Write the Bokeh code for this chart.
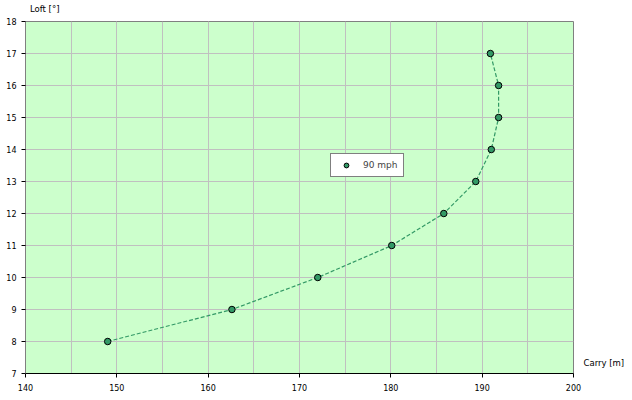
from bokeh.plotting import figure
from bokeh.models import (Range1d, SingleIntervalTicker, FixedTicker, Legend, LegendItem,
                          ColumnDataSource, LinearAxis)
from bokeh.embed import file_html
from bokeh.resources import INLINE

carry = [149.0, 162.6, 172.0, 180.1, 185.8, 189.3, 191.0, 191.8, 191.8, 190.9]
loft = [8, 9, 10, 11, 12, 13, 14, 15, 16, 17]
series_name = "90 mph"
x_title = "Carry [m]"
y_title = "Loft [°]"

FONT = "DejaVu Sans"
GREEN = "#339966"

p = figure(width=632, height=400, output_backend="svg", toolbar_location=None,
           x_range=Range1d(140, 200), y_range=Range1d(7, 18),
           min_border_left=25, min_border_right=59, min_border_top=21, min_border_bottom=27)
p.background_fill_color = "#CCFFCC"
p.border_fill_color = "white"
p.outline_line_color = "#808080"

p.xaxis.ticker = SingleIntervalTicker(interval=10, num_minor_ticks=2)
p.yaxis.ticker = SingleIntervalTicker(interval=1, num_minor_ticks=0)
for ax in (p.xaxis[0], p.yaxis[0]):
    ax.major_label_text_font = FONT
    ax.major_label_text_font_size = "8px"
    ax.major_label_text_color = "black"
    ax.minor_tick_line_color = None
    ax.major_tick_in = 0
    ax.major_tick_out = 4
    ax.major_tick_line_color = "black"
p.xaxis.axis_line_color = "black"
p.yaxis.axis_line_color = "#808080"
p.xaxis.major_label_standoff = 6
p.yaxis.major_label_standoff = 5

p.xgrid.grid_line_color = "#C0C0C0"
p.xgrid.minor_grid_line_color = "#C0C0C0"
p.ygrid.grid_line_color = "#C0C0C0"

src = ColumnDataSource(dict(x=carry, y=loft))
ln = p.line("x", "y", source=src, line_color=GREEN, line_width=1.2, line_dash="4 2")
sc = p.scatter("x", "y", source=src, size=6.5, fill_color=GREEN, line_color="black", line_width=1)

# axis titles placed as single tick labels of extra, otherwise empty axes
YT_POS = 142.1   # x position (data) of the y-axis title above the frame
XT_POS = 7.34    # y position (data) of the x-axis title right of the frame
tax = LinearAxis(ticker=FixedTicker(ticks=[YT_POS]), major_label_overrides={YT_POS: y_title},
                 axis_line_color=None, major_tick_line_color=None, minor_tick_line_color=None,
                 major_tick_out=0, major_tick_in=0, major_label_standoff=8,
                 major_label_text_font=FONT, major_label_text_font_size="8.5px",
                 major_label_text_color="black")
p.add_layout(tax, "above")
rax = LinearAxis(ticker=FixedTicker(ticks=[XT_POS]), major_label_overrides={XT_POS: x_title},
                 axis_line_color=None, major_tick_line_color=None, minor_tick_line_color=None,
                 major_tick_out=0, major_tick_in=0, major_label_standoff=10,
                 major_label_text_font=FONT, major_label_text_font_size="8.5px",
                 major_label_text_color="black")
p.add_layout(rax, "right")

legend = Legend(items=[LegendItem(label=series_name, renderers=[sc])],
                location=(305, 196), orientation="vertical",
                label_text_font=FONT, label_text_font_size="9px",
                glyph_width=20, glyph_height=12, padding=5, margin=0, spacing=0,
                label_standoff=7, border_line_color="black", border_line_width=1,
                background_fill_color="white", background_fill_alpha=1.0)
p.add_layout(legend, "center")

open("out.html", "w").write(file_html(p, INLINE))
